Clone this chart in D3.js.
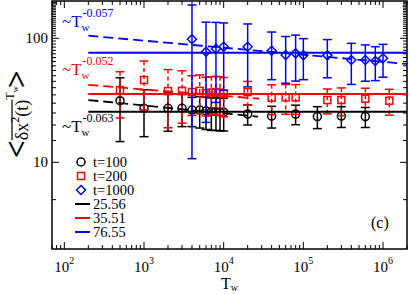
<!DOCTYPE html>
<html><head><meta charset="utf-8">
<script src="https://cdn.jsdelivr.net/npm/d3@7"></script>
<style>body{margin:0;background:#fff}svg{display:block}text{font-family:"Liberation Serif","Times New Roman",serif}</style>
</head><body><svg id="c" width="409" height="294"></svg>
<script>
// ---- data ----
const tw100 = [500,1000,2000,3000,4000,5000,6000,7000,8000,9000,10000,20000,40000,80000,150000,300000,600000];
const val100 = [31.4,27.3,27.3,27.3,26.4,26.4,25.9,25.6,25.6,25.4,25.4,24.5,23.6,24.5,23.4,23.6,23.4];
const err100 = [16.7,11.2,9.5,7.9,7,7.5,7.5,7.5,7.5,7.5,7.5,4.5,4.7,4.4,4.7,4.5,4.3];

const tw200 = [500,1000,2000,3000,4000,5000,6000,7000,8000,9000,10000,20000,40000,60000,80000,200000,300000,600000,1200000];
const val200 = [38.3,46.1,37.5,37.7,36.9,37.7,36.1,36.5,36.9,36.5,35.8,36.9,33.2,33.4,33.4,31.8,31.8,32.6,31.4];
const err200 = [15.5,19.5,18.5,17,13,13,12.5,12.5,12.5,12.5,12.5,8,9,9,9,7.2,8,7,7.4];

const tw1000 = [4000,6000,8000,10000,20000,40000,60000,80000,100000,200000,400000,600000,800000,1000000];
const val1000 = [98.2,78.0,82.4,85.6,85.6,79.4,73.4,75.7,72.9,72.9,66.8,66.8,65.6,69.0];
const err1000 = [87.5,57,52,47.5,45,33,30,30.5,26.5,24.8,24.3,21.7,20,20.4];

const seriesNames = ["t=100","t=200","t=1000"];
const flatValues = [25.56, 35.51, 76.55];
const powerExps = [-0.063, -0.052, -0.057];
const powerAmp200 = [31.8, 42.1, 105];   // value at Tw=200
const powerEnd = [27000, 28000, 2000000];
const fitStart = 200;
const fitEnd = 2000000;
const expLabels = ["-0.063","-0.052","-0.057"];
const colors = ["#000000","#ff0000","#0000ff"];

const xMajor = [1e2,1e3,1e4,1e5,1e6];
const xMajorExp = ["2","3","4","5","6"];
const yMajor = [10,100];
const yMajorLabels = ["10","100"];

// ---- layout ----
const L=52, R=407, T=1, B=249;
const x = d3.scaleLog().domain([70,2e6]).range([L,R]);
const y = d3.scaleLog().domain([2,200]).range([B,T]);
const svg = d3.select("#c");

svg.append("defs").append("clipPath").attr("id","clip")
  .append("rect").attr("x",L).attr("y",T).attr("width",R-L).attr("height",B-T);

// axes / ticks
const ax = svg.append("g");
const xMinor = x.ticks(60).filter(v=>!xMajor.includes(v));
const yMinor = y.ticks(40).filter(v=>!yMajor.includes(v) && v<200 && v>2);
function tickX(vals,len){
  vals.forEach(v=>{
    const px=x(v);
    ax.append("line").attr("x1",px).attr("x2",px).attr("y1",B).attr("y2",B-len).attr("stroke","#000").attr("stroke-width",1);
    ax.append("line").attr("x1",px).attr("x2",px).attr("y1",T).attr("y2",T+len).attr("stroke","#000").attr("stroke-width",1);
  });
}
function tickY(vals,len){
  vals.forEach(v=>{
    const py=y(v);
    ax.append("line").attr("y1",py).attr("y2",py).attr("x1",L).attr("x2",L+len).attr("stroke","#000").attr("stroke-width",1);
    ax.append("line").attr("y1",py).attr("y2",py).attr("x1",R).attr("x2",R-len).attr("stroke","#000").attr("stroke-width",1);
  });
}
tickX(xMajor,7); tickX(xMinor,4);
tickY(yMajor,7); tickY(yMinor,4);
ax.append("rect").attr("x",L).attr("y",T).attr("width",R-L).attr("height",B-T)
  .attr("fill","none").attr("stroke","#000").attr("stroke-width",1.5);

xMajor.forEach((v,i)=>{
  const t = ax.append("text").attr("x",x(v)).attr("y",272).attr("text-anchor","middle").attr("font-size",15);
  t.append("tspan").text("10");
  t.append("tspan").attr("font-size",10).attr("dy",-8).text(xMajorExp[i]);
});
yMajor.forEach((v,i)=>{
  ax.append("text").attr("x",48).attr("y",y(v)+5).attr("text-anchor","end").attr("font-size",15).text(yMajorLabels[i]);
});
// x label
const xl = ax.append("text").attr("x",221).attr("y",289).attr("font-size",16);
xl.append("tspan").text("T");
xl.append("tspan").attr("font-size",10).attr("dy",2).text("w");

// y label
const yl = svg.append("g").attr("transform","translate(28,158) rotate(-90)");
let cx = 0;
function piece(txt, size, dy, weight){
  const t = yl.append("text").attr("x",cx).attr("y",dy).attr("font-size",size).attr("font-weight",weight||"normal").text(txt);
  const w = t.node().getComputedTextLength();
  return {t, w};
}
let p = piece("<",31,-1,"bold"); cx += p.w;
const olStart = cx;
p = piece("δx",18,0); cx += p.w;
p = piece("2",12,-9); cx += p.w;
p = piece("(t)",18,0); cx += p.w;
const olEnd = cx;
yl.append("line").attr("x1",olStart).attr("x2",olEnd).attr("y1",-16).attr("y2",-16).attr("stroke","#000").attr("stroke-width",1.2);
p = piece("T",12,-14); cx += p.w;
p = piece("w",9,-10); cx += p.w - 2;
p = piece(">",31,-1,"bold");

// data
const plot = svg.append("g").attr("clip-path","url(#clip)");
const sets = [
  {tw:tw100, v:val100, e:err100, sym:"circle", dash:null},
  {tw:tw200, v:val200, e:err200, sym:"square", dash:"4,3"},
  {tw:tw1000, v:val1000, e:err1000, sym:"diamond", dash:null}
];
function drawSym(g, sym, cxp, cyp, col){
  if(sym==="circle") g.append("circle").attr("cx",cxp).attr("cy",cyp).attr("r",4).attr("fill","none").attr("stroke",col).attr("stroke-width",1.5);
  else if(sym==="square") g.append("rect").attr("x",cxp-3.5).attr("y",cyp-3.5).attr("width",7).attr("height",7).attr("fill","none").attr("stroke",col).attr("stroke-width",1.5);
  else g.append("path").attr("d",`M${cxp},${cyp-4.5}L${cxp+4.5},${cyp}L${cxp},${cyp+4.5}L${cxp-4.5},${cyp}Z`).attr("fill","none").attr("stroke",col).attr("stroke-width",1.5);
}
sets.forEach((s,k)=>{
  const g = plot.append("g");
  const col = colors[k];
  s.tw.forEach((t,i)=>{
    const px = x(t), top = y(s.v[i]+s.e[i]), bot = y(Math.max(s.v[i]-s.e[i],2.01));
    g.append("line").attr("x1",px).attr("x2",px).attr("y1",top).attr("y2",bot).attr("stroke",col).attr("stroke-width",1.5).attr("stroke-dasharray",s.dash);
    g.append("line").attr("x1",px-4.5).attr("x2",px+4.5).attr("y1",top).attr("y2",top).attr("stroke",col).attr("stroke-width",1.5);
    g.append("line").attr("x1",px-4.5).attr("x2",px+4.5).attr("y1",bot).attr("y2",bot).attr("stroke",col).attr("stroke-width",1.5);
  });
  s.tw.forEach((t,i)=>drawSym(g, s.sym, x(t), y(s.v[i]), col));
});
// fit lines
flatValues.forEach((v,k)=>{
  plot.append("line").attr("x1",x(fitStart)).attr("x2",x(fitEnd)).attr("y1",y(v)).attr("y2",y(v)).attr("stroke",colors[k]).attr("stroke-width",2);
});
powerExps.forEach((e,k)=>{
  const f = t=>powerAmp200[k]*Math.pow(t/fitStart,e);
  plot.append("line").attr("x1",x(fitStart)).attr("x2",x(powerEnd[k])).attr("y1",y(f(fitStart))).attr("y2",y(f(powerEnd[k])))
    .attr("stroke",colors[k]).attr("stroke-width",1.8).attr("stroke-dasharray","10,5");
});

// annotations
const annY = [132, 75, 27];
powerExps.forEach((e,k)=>{
  const g = svg.append("g").attr("fill",colors[k]);
  const t = g.append("text").attr("x",62).attr("y",annY[k]).attr("font-size",17).text("~T");
  const w = t.node().getComputedTextLength();
  g.append("text").attr("x",62+w).attr("y",annY[k]+4).attr("font-size",11).text("w");
  g.append("text").attr("x",62+w+1).attr("y",annY[k]-10).attr("font-size",12).text(expLabels[k]);
});

// legend
const lg = svg.append("g");
const symNames = ["circle","square","diamond"];
seriesNames.forEach((n,k)=>{
  const yy = 162 + k*14;
  drawSym(lg, symNames[k], 81, yy, colors[k]);
  lg.append("text").attr("x",93).attr("y",yy+5).attr("font-size",14.5).text(n);
});
flatValues.forEach((v,k)=>{
  const yy = 204 + k*14;
  lg.append("line").attr("x1",75).attr("x2",90).attr("y1",yy).attr("y2",yy).attr("stroke",colors[k]).attr("stroke-width",2);
  lg.append("text").attr("x",93).attr("y",yy+5).attr("font-size",14.5).text(v.toFixed(2));
});
svg.append("text").attr("x",371).attr("y",228).attr("font-size",16).text("(c)");
</script></body></html>
